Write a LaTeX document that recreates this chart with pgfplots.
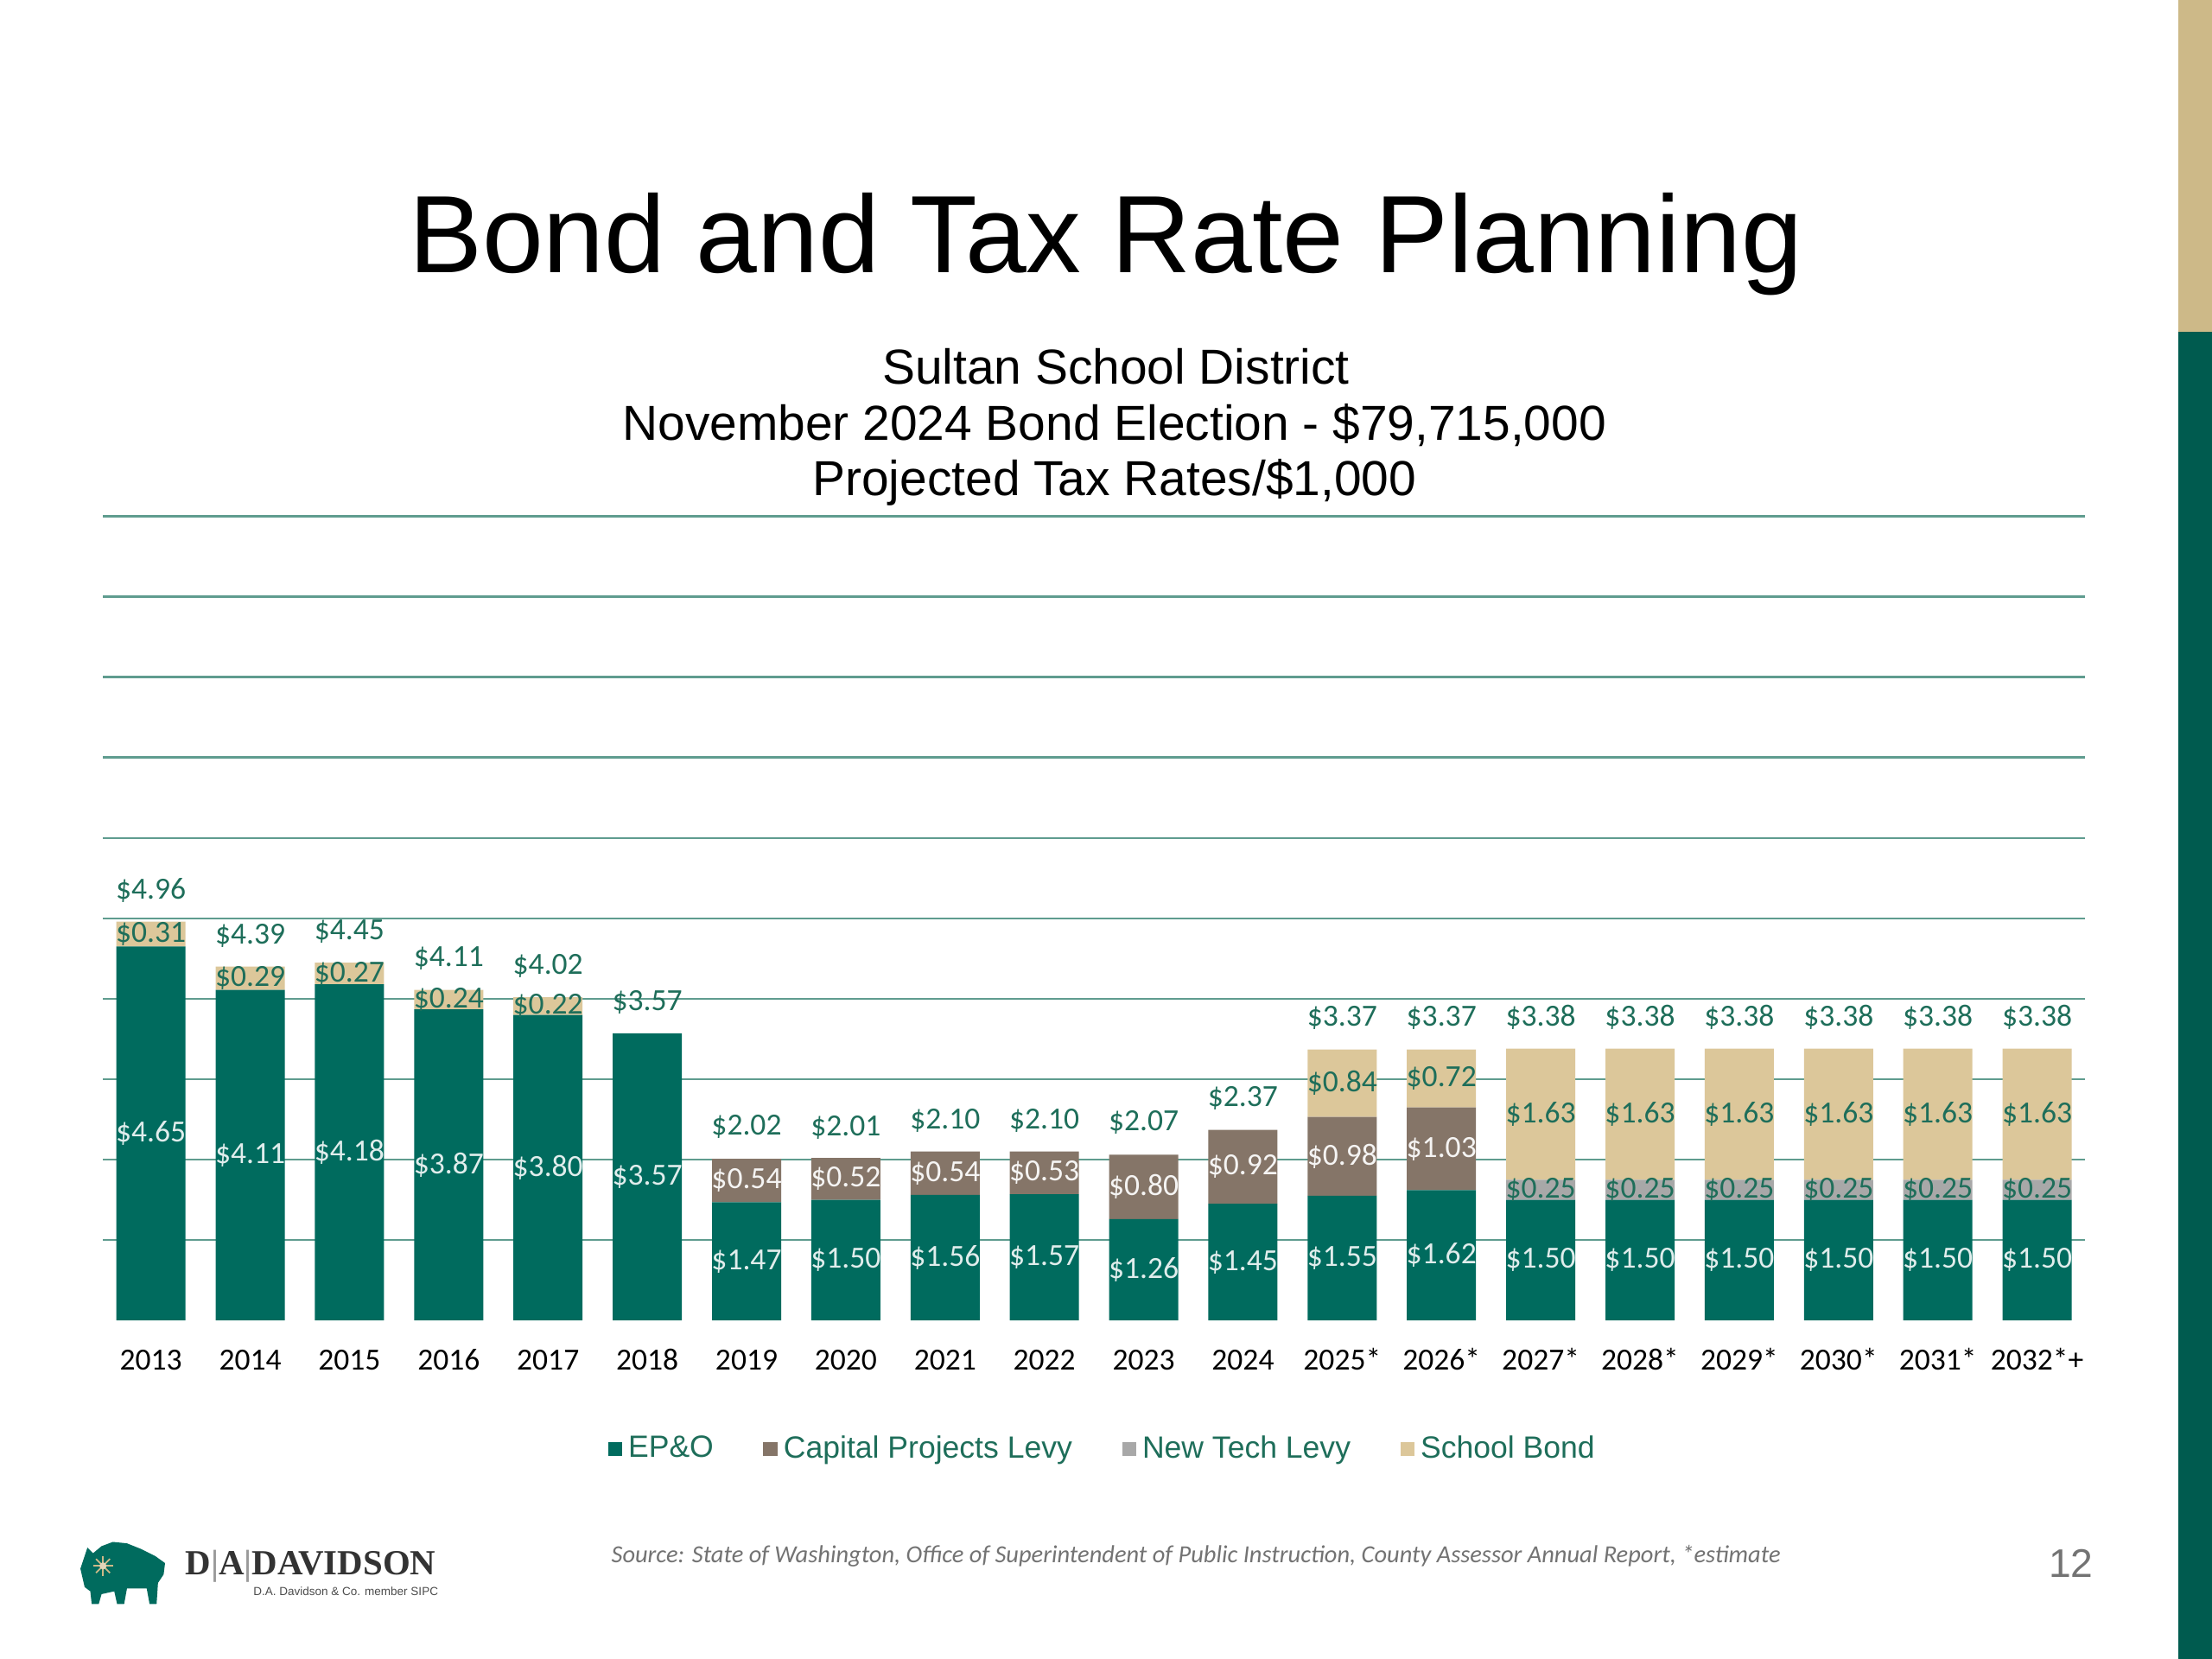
\documentclass[border=0pt]{standalone}
\usepackage{fontspec}
\setmainfont{Liberation Sans}
\newfontfamily\calibri{Carlito}
\newfontfamily\timesb{Liberation Serif}
\usepackage{pgfplots}
\usepackage{pgfplotstable}
\pgfplotsset{compat=1.18}
\pgfkeys{/pgf/number format/assume math mode=true}

\definecolor{epo}{RGB}{0,107,94}
\definecolor{cap}{RGB}{133,117,104}
\definecolor{tech}{RGB}{168,168,168}
\definecolor{bond}{RGB}{220,199,154}
\definecolor{gridc}{RGB}{95,156,143}
\definecolor{lblgreen}{RGB}{30,110,90}
\definecolor{sidetan}{RGB}{205,185,136}
\definecolor{sidegreen}{RGB}{0,91,79}

% tax rates per $1,000
\pgfplotstableread{
x  epo  cap  tech bond total
0  4.65 0    0    0.31 4.96
1  4.11 0    0    0.29 4.39
2  4.18 0    0    0.27 4.45
3  3.87 0    0    0.24 4.11
4  3.80 0    0    0.22 4.02
5  3.57 0    0    0    3.57
6  1.47 0.54 0    0    2.02
7  1.50 0.52 0    0    2.01
8  1.56 0.54 0    0    2.10
9  1.57 0.53 0    0    2.10
10 1.26 0.80 0    0    2.07
11 1.45 0.92 0    0    2.37
12 1.55 0.98 0    0.84 3.37
13 1.62 1.03 0    0.72 3.37
14 1.50 0    0.25 1.63 3.38
15 1.50 0    0.25 1.63 3.38
16 1.50 0    0.25 1.63 3.38
17 1.50 0    0.25 1.63 3.38
18 1.50 0    0.25 1.63 3.38
19 1.50 0    0.25 1.63 3.38
}\rates

\pgfplotsset{
  sqlegend/.style={legend image code/.code={\fill[##1] (0pt,-2.3pt) rectangle (4.6pt,2.3pt);}},
  seglabel/.style={
    nodes near coords={\pgfmathfloatifflags{\pgfplotspointmeta}{0}{}{\$\pgfmathprintnumber[fixed,fixed zerofill,precision=2]{\pgfplotspointmeta}}},
    point meta=explicit,
    every node near coord/.append style={anchor=center, text=#1},
  },
  frame/.style={
    at={(33.52pt,-429.79pt)}, anchor=south west,
    scale only axis,
    width=645.15pt, height=261.73pt,
    bar width=22.5pt,
    xmin=-0.483, xmax=19.483,
    ymin=0, ymax=10,
    clip=false,
    nodes near coords style={font=\calibri\fontsize{10}{12}\selectfont},
  },
}

\begin{document}
\begin{tikzpicture}
\path[use as bounding box, fill=white] (0pt,0pt) rectangle (720pt,-540pt);

\begin{axis}[
    frame,
    ybar stacked,
    xtick={0,...,19},
    xticklabels={2013,2014,2015,2016,2017,2018,2019,2020,2021,2022,2023,2024,2025*,2026*,2027*,2028*,2029*,2030*,2031*,2032*+},
    ytick={1,...,10},
    yticklabels={},
    ymajorgrids,
    grid style={gridc, line width=0.7pt},
    axis line style={draw=none},
    major tick length=0pt,
    xticklabel style={font=\calibri\fontsize{10}{12}\selectfont, text=black, anchor=base, yshift=-16.1pt},
    legend style={at={(0.5053,-0.16)}, anchor=center, draw=none, legend columns=4,
      font=\fontsize{10}{12}\selectfont, text=lblgreen,
      /tikz/every even column/.append style={column sep=14.2pt}},
]
\addplot[fill=epo, draw=none, sqlegend, seglabel=white!88!epo] table[x=x, y=epo, meta=epo] {\rates};
\addlegendentry{EP\&O}
\addplot[fill=cap, draw=none, sqlegend, seglabel=white!92!cap] table[x=x, y=cap, meta=cap] {\rates};
\addlegendentry{Capital Projects Levy}
\addplot[fill=tech, draw=none, sqlegend, seglabel=lblgreen] table[x=x, y=tech, meta=tech] {\rates};
\addlegendentry{New Tech Levy}
\addplot[fill=bond, draw=none, sqlegend, seglabel=lblgreen] table[x=x, y=bond, meta=bond] {\rates};
\addlegendentry{School Bond}
\end{axis}

% totals above the stacks
\begin{axis}[frame, ybar, hide axis]
\addplot[draw=none, fill=none,
    nodes near coords={\$\pgfmathprintnumber[fixed,fixed zerofill,precision=2]{\pgfplotspointmeta}},
    point meta=explicit,
    every node near coord/.append style={anchor=center, yshift=10.2pt, text=lblgreen}]
    table[x=x, y=total, meta=total] {\rates};
\end{axis}

\begin{scope}[x=0.45918pt, y=-0.45918pt]
\fill[sidetan] (1544,0) rectangle (1568,235);
\fill[sidegreen] (1544,235) rectangle (1568,1176);

\node[anchor=base, font=\fontsize{35.8}{40}\selectfont] at (784,193) {Bond and Tax Rate Planning};
\node[anchor=base, font=\fontsize{16}{18}\selectfont] at (791,272) {Sultan School District};
\node[anchor=base, font=\fontsize{16}{18}\selectfont] at (790,312) {November 2024 Bond Election - \$79,715,000};
\node[anchor=base, font=\fontsize{16}{18}\selectfont] at (790,351) {Projected Tax Rates/\$1,000};

\node[anchor=base west, inner sep=0pt, font=\calibri\itshape\fontsize{8}{9}\selectfont, text=black!55] at (433,1108)
  {Source: State of Washington, Office of Superintendent of Public Instruction, County Assessor Annual Report, *estimate};
\node[font=\fontsize{13}{15}\selectfont, text=black!55] at (1468,1108) {12};

% logo
\fill[epo] (60,1125) -- (57,1112) -- (60,1103) -- (62,1097) -- (66,1101) -- (72,1096) -- (80,1093)
  -- (90,1094) -- (100,1098) -- (110,1103) -- (117,1108) -- (116,1116) -- (112,1122) -- (111,1137)
  -- (106,1137) -- (104,1126) -- (90,1126) -- (88,1137) -- (83,1137) -- (81,1128) -- (72,1130)
  -- (70,1137) -- (65,1137) -- (64,1128) -- cycle;
\foreach \a in {0,45,...,315} \draw[sidetan, line width=0.5pt] (73,1110) -- ++(\a:7);
\fill[sidetan!60!white] (73,1110) circle (2.5);
\node[anchor=base west, inner sep=0pt, font=\timesb\bfseries\fontsize{11.5}{13}\selectfont, text=black!80] at (131,1116) {D{\color{black!40}|}A{\color{black!40}|}DAVIDSON};
\node[anchor=base east, inner sep=0pt, font=\fontsize{3.8}{4}\selectfont, text=black!70] at (311,1131) {D.A. Davidson \& Co. member SIPC};
\end{scope}
\end{tikzpicture}
\end{document}
